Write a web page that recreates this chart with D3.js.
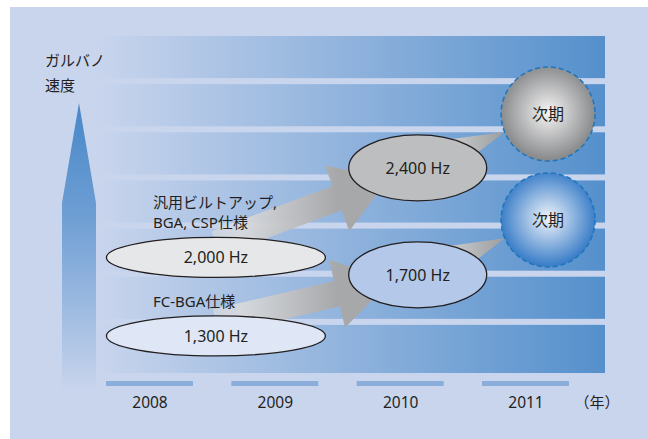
<!DOCTYPE html>
<html>
<head>
<meta charset="utf-8">
<script src="https://cdn.jsdelivr.net/npm/d3@7"></script>
<style>
  html, body { margin: 0; padding: 0; background: #fff; }
  svg { display: block; }
  text { font-family: "Noto Sans", "Noto Sans CJK JP", sans-serif; fill: #231f20; }
</style>
</head>
<body>
<div id="chart"></div>
<script>
// Data
const years = [2008, 2009, 2010, 2011];
const speedLabels = ["1,300 Hz", "2,000 Hz", "1,700 Hz", "2,400 Hz"];
const speedTime = [2008.53, 2008.53, 2010.14, 2010.14];
const speedLevel = [0.77, 2.4, 2.04, 4.26];
const speedKind = ["fc", "bu", "fc", "bu"];
const nextLabels = ["次期", "次期"];
const nextTime = [2011.18, 2011.18];
const nextLevel = [3.18, 5.38];
const nextKind = ["fc", "bu"];
const specLabels = [["FC-BGA仕様"], ["汎用ビルトアップ,", "BGA, CSP仕様"]];
const arrowLinks = [[0, 2], [1, 3]];   // speed -> speed
const wedgeLinks = [[2, 0], [3, 1]];   // speed -> next
const axisTitle = ["ガルバノ", "速度"];
const unitLabel = "（年）";
const stripeCount = 7;

const W = 648, H = 439;
const svg = d3.select("#chart").append("svg")
    .attr("width", W)
    .attr("height", H);

const defs = svg.append("defs");

// Scales
const x = d3.scaleLinear().domain([2008, 2011]).range([149.5, 525.5]);
const y = d3.scaleLinear().domain([0, stripeCount]).range([373, 36]);

// Panel
svg.append("rect")
    .attr("x", 10).attr("y", 7)
    .attr("width", W - 10).attr("height", H - 7)
    .attr("fill", "#c9d5ed");

// Stripe gradient
const sg = defs.append("linearGradient")
    .attr("id", "stripe")
    .attr("gradientUnits", "userSpaceOnUse")
    .attr("x1", 95).attr("x2", 605).attr("y1", 0).attr("y2", 0);
sg.append("stop").attr("offset", 0).attr("stop-color", "#c9d5ed");
sg.append("stop").attr("offset", 1).attr("stop-color", "#5590cc");

const gap = 6;
svg.append("g").selectAll("rect")
    .data(d3.range(stripeCount))
    .enter()
    .append("rect")
    .attr("x", 95)
    .attr("width", 605 - 95)
    .attr("y", d => y(d + 1))
    .attr("height", d => y(d) - y(d + 1) - gap + (d === 0 ? gap : 0))
    .attr("fill", "url(#stripe)");

// Year axis
const bandW = 87;
svg.append("g").selectAll("rect")
    .data(years)
    .enter()
    .append("rect")
    .attr("x", d => x(d) - bandW / 2)
    .attr("y", 381)
    .attr("width", bandW)
    .attr("height", 5)
    .attr("fill", "#8badda");

const axis = svg.append("g")
    .attr("transform", "translate(0,381)")
    .call(d3.axisBottom(x).tickValues(years).tickFormat(d3.format("d")).tickSize(0));
axis.select(".domain").remove();
axis.selectAll("text")
    .attr("y", 27).attr("dy", 0)
    .style("font-size", "15.5px")
    .style("font-family", "\"Noto Sans\", sans-serif")
    .attr("fill", "#231f20");

svg.append("text")
    .attr("x", x(2011) + 49)
    .attr("y", 408)
    .style("font-size", "15px")
    .style("font-family", "\"Noto Sans CJK JP\", sans-serif")
    .text(unitLabel);

// Vertical speed arrow
const vg = defs.append("linearGradient")
    .attr("id", "vArrow")
    .attr("gradientUnits", "userSpaceOnUse")
    .attr("x1", 0).attr("x2", 0).attr("y1", 103).attr("y2", 392);
vg.append("stop").attr("offset", 0).attr("stop-color", "#4787c9");
vg.append("stop").attr("offset", 0.4).attr("stop-color", "#6f9fd4");
vg.append("stop").attr("offset", 1).attr("stop-color", "#c9d5ed");

svg.append("path")
    .attr("d", d3.line()([[79, 103], [96, 203], [96, 392], [62, 392], [62, 203]]) + "Z")
    .attr("fill", "url(#vArrow)");

svg.append("g").selectAll("text")
    .data(axisTitle)
    .enter()
    .append("text")
    .attr("x", 45)
    .attr("y", (d, i) => 66 + i * 25)
    .style("font-size", "15px")
    .style("font-family", "\"Noto Sans CJK JP\", sans-serif")
    .text(d => d);

// Node positions
const speeds = speedLabels.map((label, i) => ({
    label, cx: x(speedTime[i]), cy: y(speedLevel[i]), kind: speedKind[i],
    rx: i < 2 ? 109.5 : 69, ry: i < 2 ? 20 : 33
}));
const nexts = nextLabels.map((label, i) => ({
    label, cx: x(nextTime[i]), cy: y(nextLevel[i]), kind: nextKind[i], r: 47
}));

// Big gray arrows
arrowLinks.forEach(([a, b], k) => {
    const p0 = [speeds[a].cx, speeds[a].cy - speeds[a].ry * 0.7];
    const p1 = [speeds[b].cx, speeds[b].cy];
    const dx = p1[0] - p0[0], dy = p1[1] - p0[1];
    const len = Math.hypot(dx, dy);
    const ux = dx / len, uy = dy / len, nx = -uy, ny = ux;
    const at = (t, w) => [p0[0] + ux * t + nx * w, p0[1] + uy * t + ny * w];
    const tb = len * 0.6, sw = 13, hw = 35, hl = 55;
    const pts = [at(0, -sw), at(tb, -sw), at(tb, -hw), at(tb + hl, 0),
                 at(tb, hw), at(tb, sw), at(0, sw)];
    const g = defs.append("linearGradient")
        .attr("id", "arr" + k)
        .attr("gradientUnits", "userSpaceOnUse")
        .attr("x1", p0[0] - 40).attr("x2", at(tb, 0)[0]).attr("y1", 0).attr("y2", 0);
    g.append("stop").attr("offset", 0).attr("stop-color", "#e4e5e6").attr("stop-opacity", 0.1);
    g.append("stop").attr("offset", 0.4).attr("stop-color", "#dadbdc").attr("stop-opacity", 0.9);
    g.append("stop").attr("offset", 1).attr("stop-color", "#a7a8aa");
    svg.append("path")
        .attr("d", d3.line()(pts) + "Z")
        .attr("fill", "url(#arr" + k + ")");
});

// Wedges toward next circles
wedgeLinks.forEach(([a, b], k) => {
    const s = speeds[a], n = nexts[b];
    const dx = s.cx - n.cx, dy = s.cy - n.cy;
    const len = Math.hypot(dx, dy);
    const tip = [n.cx + dx / len * n.r, n.cy + dy / len * n.r];
    const ux = -dx / len, uy = -dy / len, nx = -uy, ny = ux;
    const hw = 25;
    const pts = [[s.cx + nx * hw, s.cy + ny * hw], tip, [s.cx - nx * hw, s.cy - ny * hw]];
    const g = defs.append("linearGradient")
        .attr("id", "wedge" + k)
        .attr("gradientUnits", "userSpaceOnUse")
        .attr("x1", s.cx + 40).attr("x2", tip[0]).attr("y1", 0).attr("y2", 0);
    g.append("stop").attr("offset", 0).attr("stop-color", "#c4c5c7");
    g.append("stop").attr("offset", 1).attr("stop-color", "#9c9d9f");
    svg.append("path")
        .attr("d", d3.line()(pts) + "Z")
        .attr("fill", "url(#wedge" + k + ")");
});

// Spec labels
specLabels.forEach((lines, i) => {
    const s = speeds[i];
    svg.append("g").selectAll("text")
        .data(lines)
        .enter()
        .append("text")
        .attr("x", s.cx - 63)
        .attr("y", (d, j) => s.cy - 29 - (lines.length - 1 - j) * 20)
        .style("font-size", "15px")
        .text(d => d);
});

// Speed ellipses
const fills = ["#dfe7f6", "#e6e7e8", "#b4c9ea", "#bdbec0"];
const sp = svg.append("g").selectAll("g")
    .data(speeds)
    .enter()
    .append("g");
sp.append("ellipse")
    .attr("cx", d => d.cx).attr("cy", d => d.cy)
    .attr("rx", d => d.rx).attr("ry", d => d.ry)
    .attr("fill", (d, i) => fills[i])
    .attr("stroke", "#231f20")
    .attr("stroke-width", 1.3);
sp.append("text")
    .attr("x", d => d.cx).attr("y", d => d.cy)
    .attr("dy", "0.36em")
    .attr("text-anchor", "middle")
    .style("font-size", "16px")
    .text(d => d.label);

// Next circles
const rg = {
    bu: ["#f5f5f5", "#8a8b8d"],
    fc: ["#f0f4fb", "#3c7fc8"]
};
Object.keys(rg).forEach(key => {
    const g = defs.append("radialGradient")
        .attr("id", "rg-" + key)
        .attr("cx", "50%").attr("cy", "48%").attr("r", "50%");
    g.append("stop").attr("offset", 0).attr("stop-color", rg[key][0]);
    g.append("stop").attr("offset", 1).attr("stop-color", rg[key][1]);
});

const nx = svg.append("g").selectAll("g")
    .data(nexts)
    .enter()
    .append("g");
nx.append("circle")
    .attr("cx", d => d.cx).attr("cy", d => d.cy).attr("r", d => d.r)
    .attr("fill", d => "url(#rg-" + d.kind + ")")
    .attr("stroke", "#1d76bd")
    .attr("stroke-width", 1.5)
    .attr("stroke-dasharray", "5 3");
nx.append("text")
    .attr("x", d => d.cx).attr("y", d => d.cy)
    .attr("dy", "0.36em")
    .attr("text-anchor", "middle")
    .style("font-size", "16px")
    .style("font-family", "\"Noto Sans CJK JP\", sans-serif")
    .text(d => d.label);
</script>
</body>
</html>
